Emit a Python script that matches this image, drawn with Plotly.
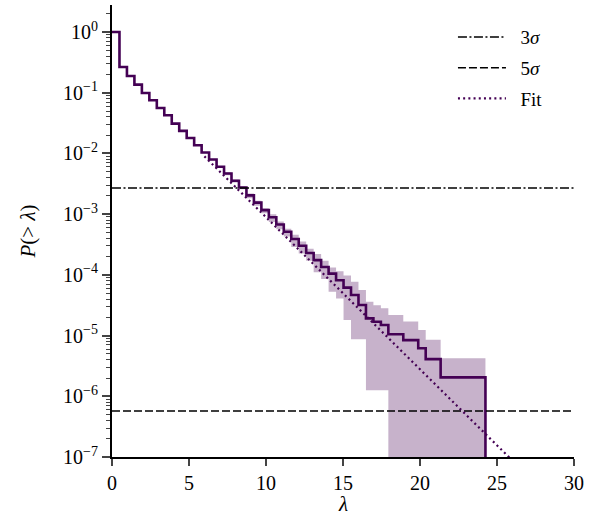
import numpy as np
import plotly.graph_objects as go

# ---- data ----
bin_edges = np.linspace(0.0, 24.25, 51)  # 50 bins of width 0.485

surv = [1.0, 0.2655, 0.1888, 0.1361, 0.0991, 0.0752, 0.0561, 0.0426, 0.0310, 0.0235,
        0.0180, 0.01365, 0.01035, 7.94e-3, 6.03e-3, 4.68e-3, 3.55e-3, 2.75e-3, 2.04e-3, 1.55e-3,
        1.164e-3, 8.91e-4, 6.76e-4, 5.13e-4, 3.89e-4, 3.02e-4, 2.29e-4, 1.75e-4, 1.35e-4, 1.05e-4,
        8.13e-5, 6.17e-5, 4.65e-5, 3.18e-5, 1.92e-5, 1.69e-5, 1.49e-5, 1.05e-5, 1.05e-5, 8.43e-6,
        8.43e-6, 6.17e-6, 4.10e-6, 4.10e-6, 2.05e-6, 2.05e-6, 2.05e-6, 2.05e-6, 2.05e-6, 2.05e-6]

band_upper = [1.0, 0.2716, 0.1931, 0.1392, 0.1014, 0.0769, 0.0574, 0.0436, 0.0317, 0.0240,
              0.0184, 0.01396, 0.01059, 8.12e-3, 6.17e-3, 4.90e-3, 3.72e-3, 2.88e-3, 2.19e-3, 1.66e-3,
              1.248e-3, 1.0e-3, 7.58e-4, 5.76e-4, 4.57e-4, 3.55e-4, 2.69e-4, 2.20e-4, 1.70e-4, 1.32e-4,
              1.15e-4, 9.78e-5, 7.72e-5, 5.65e-5, 3.60e-5, 3.16e-5, 2.82e-5, 2.19e-5, 2.19e-5, 1.70e-5,
              1.70e-5, 1.23e-5, 8.51e-6, 8.51e-6, 4.22e-6, 4.22e-6, 4.22e-6, 4.22e-6, 4.22e-6, 4.22e-6]

band_lower = [1.0, 0.2594, 0.1845, 0.1330, 0.0968, 0.0735, 0.0548, 0.0416, 0.0303, 0.0230,
              0.0176, 0.01334, 0.01011, 7.76e-3, 5.89e-3, 4.37e-3, 3.31e-3, 2.57e-3, 1.82e-3, 1.38e-3,
              1.037e-3, 7.41e-4, 5.62e-4, 4.27e-4, 2.88e-4, 2.24e-4, 1.70e-4, 1.10e-4, 8.52e-5, 5.26e-5,
              4.07e-5, 1.80e-5, 8.71e-6, 8.71e-6, 1.26e-6, 1.26e-6, 1.26e-6, 0.0, 0.0, 0.0,
              0.0, 0.0, 0.0, 0.0, 0.0, 0.0, 0.0, 0.0, 0.0, 0.0]

p_3sigma = 2.7e-3
p_5sigma = 5.733e-7

fit_amp = 0.285
fit_rate = 0.5768
fit_x_range = [6.0, 30.0]

x_ticks = [0, 5, 10, 15, 20, 25, 30]
y_tick_exps = [0, -1, -2, -3, -4, -5, -6, -7]
y_tick_labels = ["10<sup>0</sup>", "10<sup>\u22121</sup>", "10<sup>\u22122</sup>", "10<sup>\u22123</sup>",
                 "10<sup>\u22124</sup>", "10<sup>\u22125</sup>", "10<sup>\u22126</sup>", "10<sup>\u22127</sup>"]
legend_names = ["3<i>σ</i>", "5<i>σ</i>", "Fit"]
x_title = "<i>λ</i>"
y_title = "<i>P</i>(&gt; <i>λ</i>)"

# ---- build ----
TINY = 1e-12
PURPLE = "#440154"
FILL = "rgba(68,1,84,0.30)"
FONT = "Liberation Serif"
PAD = "\u2002"


def stepify(vals):
    v = [max(val, TINY) for val in vals]
    return list(bin_edges), v + [TINY]


fig = go.Figure()

xl, yl = stepify(band_lower)
xu, yu = stepify(band_upper)
fig.add_trace(go.Scatter(x=xl, y=yl, mode="lines", line=dict(shape="hv", width=0, color=FILL),
                         showlegend=False, hoverinfo="skip"))
fig.add_trace(go.Scatter(x=xu, y=yu, mode="lines", line=dict(shape="hv", width=0, color=FILL),
                         fill="tonexty", fillcolor=FILL, showlegend=False, hoverinfo="skip"))

xs, ys = stepify(surv)
fig.add_trace(go.Scatter(x=xs, y=ys, mode="lines", line=dict(shape="hv", width=2.6, color=PURPLE),
                         showlegend=False))

fig.add_trace(go.Scatter(x=[0, 30], y=[p_3sigma, p_3sigma], mode="lines",
                         line=dict(color="black", width=1.5, dash="9px,2.5px,2px,2.5px"),
                         name=PAD + legend_names[0], legendgroup="a"))
fig.add_trace(go.Scatter(x=[0, 30], y=[p_5sigma, p_5sigma], mode="lines",
                         line=dict(color="black", width=1.5, dash="8px,3px"),
                         name=PAD + legend_names[1], legendgroup="b"))

fx = np.array(fit_x_range)
fy = fit_amp * np.exp(-fit_rate * fx)
fig.add_trace(go.Scatter(x=fx, y=fy, mode="lines",
                         line=dict(color=PURPLE, width=2.2, dash="2px,3.2px"),
                         name=PAD + legend_names[2], legendgroup="c"))

fig.add_annotation(text=x_title, xref="paper", yref="paper", x=0.5, y=-0.104,
                   xanchor="center", yanchor="middle", showarrow=False, font=dict(size=21))

fig.update_layout(
    width=600, height=517,
    margin=dict(l=112, r=26, t=5, b=60),
    plot_bgcolor="white", paper_bgcolor="white",
    font=dict(family=FONT, size=20, color="black"),
    showlegend=True,
    legend=dict(x=0.738, y=0.971, xanchor="left", yanchor="top", bgcolor="rgba(0,0,0,0)",
                font=dict(size=19), tracegroupgap=3, itemwidth=48),
    xaxis=dict(range=[0, 30], tickvals=x_ticks, ticks="outside", ticklen=7, tickwidth=2,
               showline=True, linecolor="black", linewidth=2, showgrid=False, zeroline=False,
               tickfont=dict(size=20)),
    yaxis=dict(type="log", range=[-7, 0.445],
               tickvals=[10.0 ** e for e in y_tick_exps], ticktext=y_tick_labels,
               ticks="outside", ticklen=8, tickwidth=2,
               minor=dict(ticks="outside", ticklen=4.5, tickwidth=1.3, dtick="D1", showgrid=False),
               showline=True, linecolor="black", linewidth=2, showgrid=False, zeroline=False,
               title=dict(text=y_title, font=dict(size=21), standoff=22),
               tickfont=dict(size=20)),
)

fig.write_html("out.html", config={"displayModeBar": False},
               post_script="document.body.style.margin='0';")
